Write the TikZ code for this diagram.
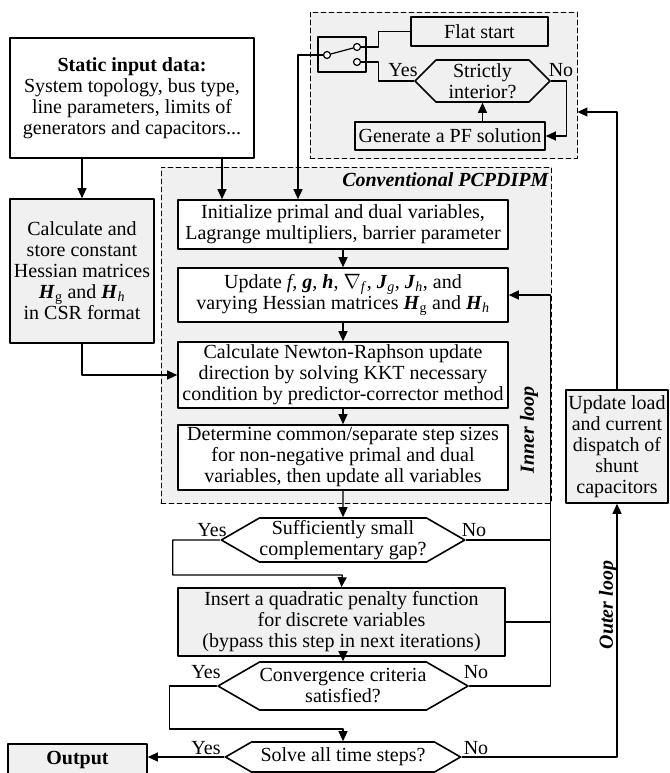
\documentclass[tikz,border=0pt]{standalone}
\usepackage{fontspec}
\setmainfont{Liberation Serif}
\usetikzlibrary{calc}
\usetikzlibrary{arrows.meta}
\usetikzlibrary{shapes.symbols}
\definecolor{efefef}{rgb}{0.94,0.94,0.94}
\newcommand{\bv}[1]{\textbf{\textit{#1}}}
\tikzstyle{every node}=[font=\fontsize{20}{21}\selectfont]
\tikzstyle{box}=[draw,line width=1.6pt,fill=white,align=center,inner sep=0pt]
\tikzstyle{gbox}=[box,fill=efefef]
\tikzstyle{decision}=[box,signal,signal to=east and west,signal pointer angle=60]
\tikzstyle{region}=[draw,line width=0.9pt,dash pattern=on 5pt off 3pt,fill=efefef,inner sep=0pt]
\tikzstyle{title}=[font=\fontsize{20}{21}\selectfont\bfseries\itshape,inner sep=0pt]
\tikzstyle{lbl}=[inner sep=0pt]

\begin{document}
\begin{tikzpicture}[line cap=round,line join=round,>={Triangle[length=10pt,width=9pt]},x=1pt,y=-1pt,line width=1.2pt]

\useasboundingbox (0,0) rectangle (669,773);
% dashed regions
\node[region,minimum width=267pt,minimum height=146pt] (topbox) at (443.5,85) {};
\node[region,minimum width=390pt,minimum height=336pt] (pcpd) at (356,335) {};
\node[title,anchor=north east] (pcpdname) at (549,172) {Conventional PCPDIPM};

% start point
\node[box,fill=efefef,minimum width=137pt,minimum height=29pt] (flat) at (479.5,31.5) {Flat start};
\node[decision,fill=efefef,signal pointer angle=90,minimum width=135pt,minimum height=42pt] (strict) at (482.5,81) {Strictly\\interior?};
\node[box,fill=efefef,minimum width=190pt,minimum height=28pt] (gen) at (450,136) {Generate a PF solution};
\node[box,fill=none,minimum width=48pt,minimum height=35pt] (sw) at (342,54.5) {};
\node[circle,draw,fill=white,inner sep=0pt,minimum size=7pt] (swc) at (327,55) {};
\node[circle,draw,fill=white,inner sep=0pt,minimum size=7pt] (swa) at (357,47) {};
\node[circle,draw,fill=white,inner sep=0pt,minimum size=7pt] (swb) at (357,62) {};

% main flow
\node[box,minimum width=244pt,minimum height=120pt] (static) at (132,98) {\textbf{Static input data:}\\System topology, bus type,\\line parameters, limits of\\generators and capacitors...};
\node[gbox,minimum width=144pt,minimum height=144pt] (hess) at (82,271) {Calculate and\\store constant\\Hessian matrices\\\bv{H}\textsubscript{g} and \bv{H}\textsubscript{\textit{h}}\\in CSR format};
\node[box,minimum width=330pt,minimum height=49pt] (init) at (343,224.5) {Initialize primal and dual variables,\\Lagrange multipliers, barrier parameter};
\node[box,minimum width=330pt,minimum height=54pt] (update) at (343,295) {Update \textit{f}, \bv{g}, \bv{h}, $\nabla$\textsubscript{\textit{f}}, \bv{J}\textsubscript{\textit{g}}, \bv{J}\textsubscript{\textit{h}}, and\\varying Hessian matrices \bv{H}\textsubscript{g} and \bv{H}\textsubscript{\textit{h}}};
\node[box,minimum width=330pt,minimum height=66pt] (nr) at (343,375) {Calculate Newton-Raphson update\\direction by solving KKT necessary\\condition by predictor-corrector method};
\node[box,minimum width=330pt,minimum height=65pt] (det) at (343,457.5) {Determine common/separate step sizes\\for non-negative primal and dual\\variables, then update all variables};
\node[decision,minimum width=235pt,minimum height=44pt] (suff) at (343,540) {Sufficiently small\\complementary gap?};
\node[gbox,minimum width=327pt,minimum height=68pt] (pen) at (341.5,622) {Insert a quadratic penalty function\\for discrete variables\\(bypass this step in next iterations)};
\node[decision,minimum width=235pt,minimum height=48pt] (conv) at (343,686) {Convergence criteria\\satisfied?};
\node[decision,minimum width=235pt,minimum height=30pt] (solve) at (343,757) {Solve all time steps?};
\node[gbox,minimum width=139pt,minimum height=32pt] (output) at (77.5,760) {\textbf{Output}};
\node[gbox,minimum width=102pt,minimum height=113pt] (updl) at (617,446.5) {Update load\\and current\\dispatch of\\shunt\\capacitors};

\node[title,rotate=90] (inname) at (529,430) {Inner loop};
\node[title,rotate=90] (outname) at (608,605) {Outer loop};

% switch
\draw (swc) -- (swa);
\draw (swa.east) -- ++(17.5,0) |- (flat.west);
\draw (swb.east) -- ++(17.5,0) |- (strict.west);
\draw[->] (strict.east) -- ++(15,0) |- (gen.east);
\draw[->] (gen.north -| strict.south) -- (strict.south);
\draw[->] (swc.west) -| ($(init.north)+(-45,0)$);

% connectors
\draw[->] (static.south -| hess) -- (hess.north);
\draw[->] ($(static.south)+(90,0)$) -- ($(init.north)+(-121,0)$);
\draw[->] (hess.south) |- (nr.west);
\draw[->] (init) -- (update);
\draw[->] (update) -- (nr);
\draw[->] (nr) -- (det);
\draw[->] (det) -- (suff);
\draw[->] (suff.west) -- ++(-47,0) |- ($(suff.south)!0.5!(pen.north)$) -- (pen.north);
\draw[->] (pen.south -| conv) -- (conv.north);
\draw[->] (conv.west) -- ++(-47,0) |- ($(conv.south)!0.6!(solve.north)$) -- (solve.north);
\draw[->] (conv.east) -- ++(81,0) coordinate (ilc) |- (update.east);
\draw (suff.east) -- (suff.east -| ilc);
\draw (pen.east) -- (pen.east -| ilc);
\draw[->] (solve.west) -- (solve.west -| output.east);
\draw[->] (solve.east) -| (updl.south);
\draw[->] (updl.north) |- ($(topbox.east)+(0,27)$);

% labels
\node[lbl] (yes1) at (403,70) {Yes};
\node[lbl] (no1) at (561,70) {No};
\node[lbl] (yes2) at (212,530) {Yes};
\node[lbl] (no2) at (474,530) {No};
\node[lbl] (yes3) at (206,672) {Yes};
\node[lbl] (no3) at (476,672) {No};
\node[lbl] (yes4) at (206,748) {Yes};
\node[lbl] (no4) at (476,748) {No};
\end{tikzpicture}
\end{document}
